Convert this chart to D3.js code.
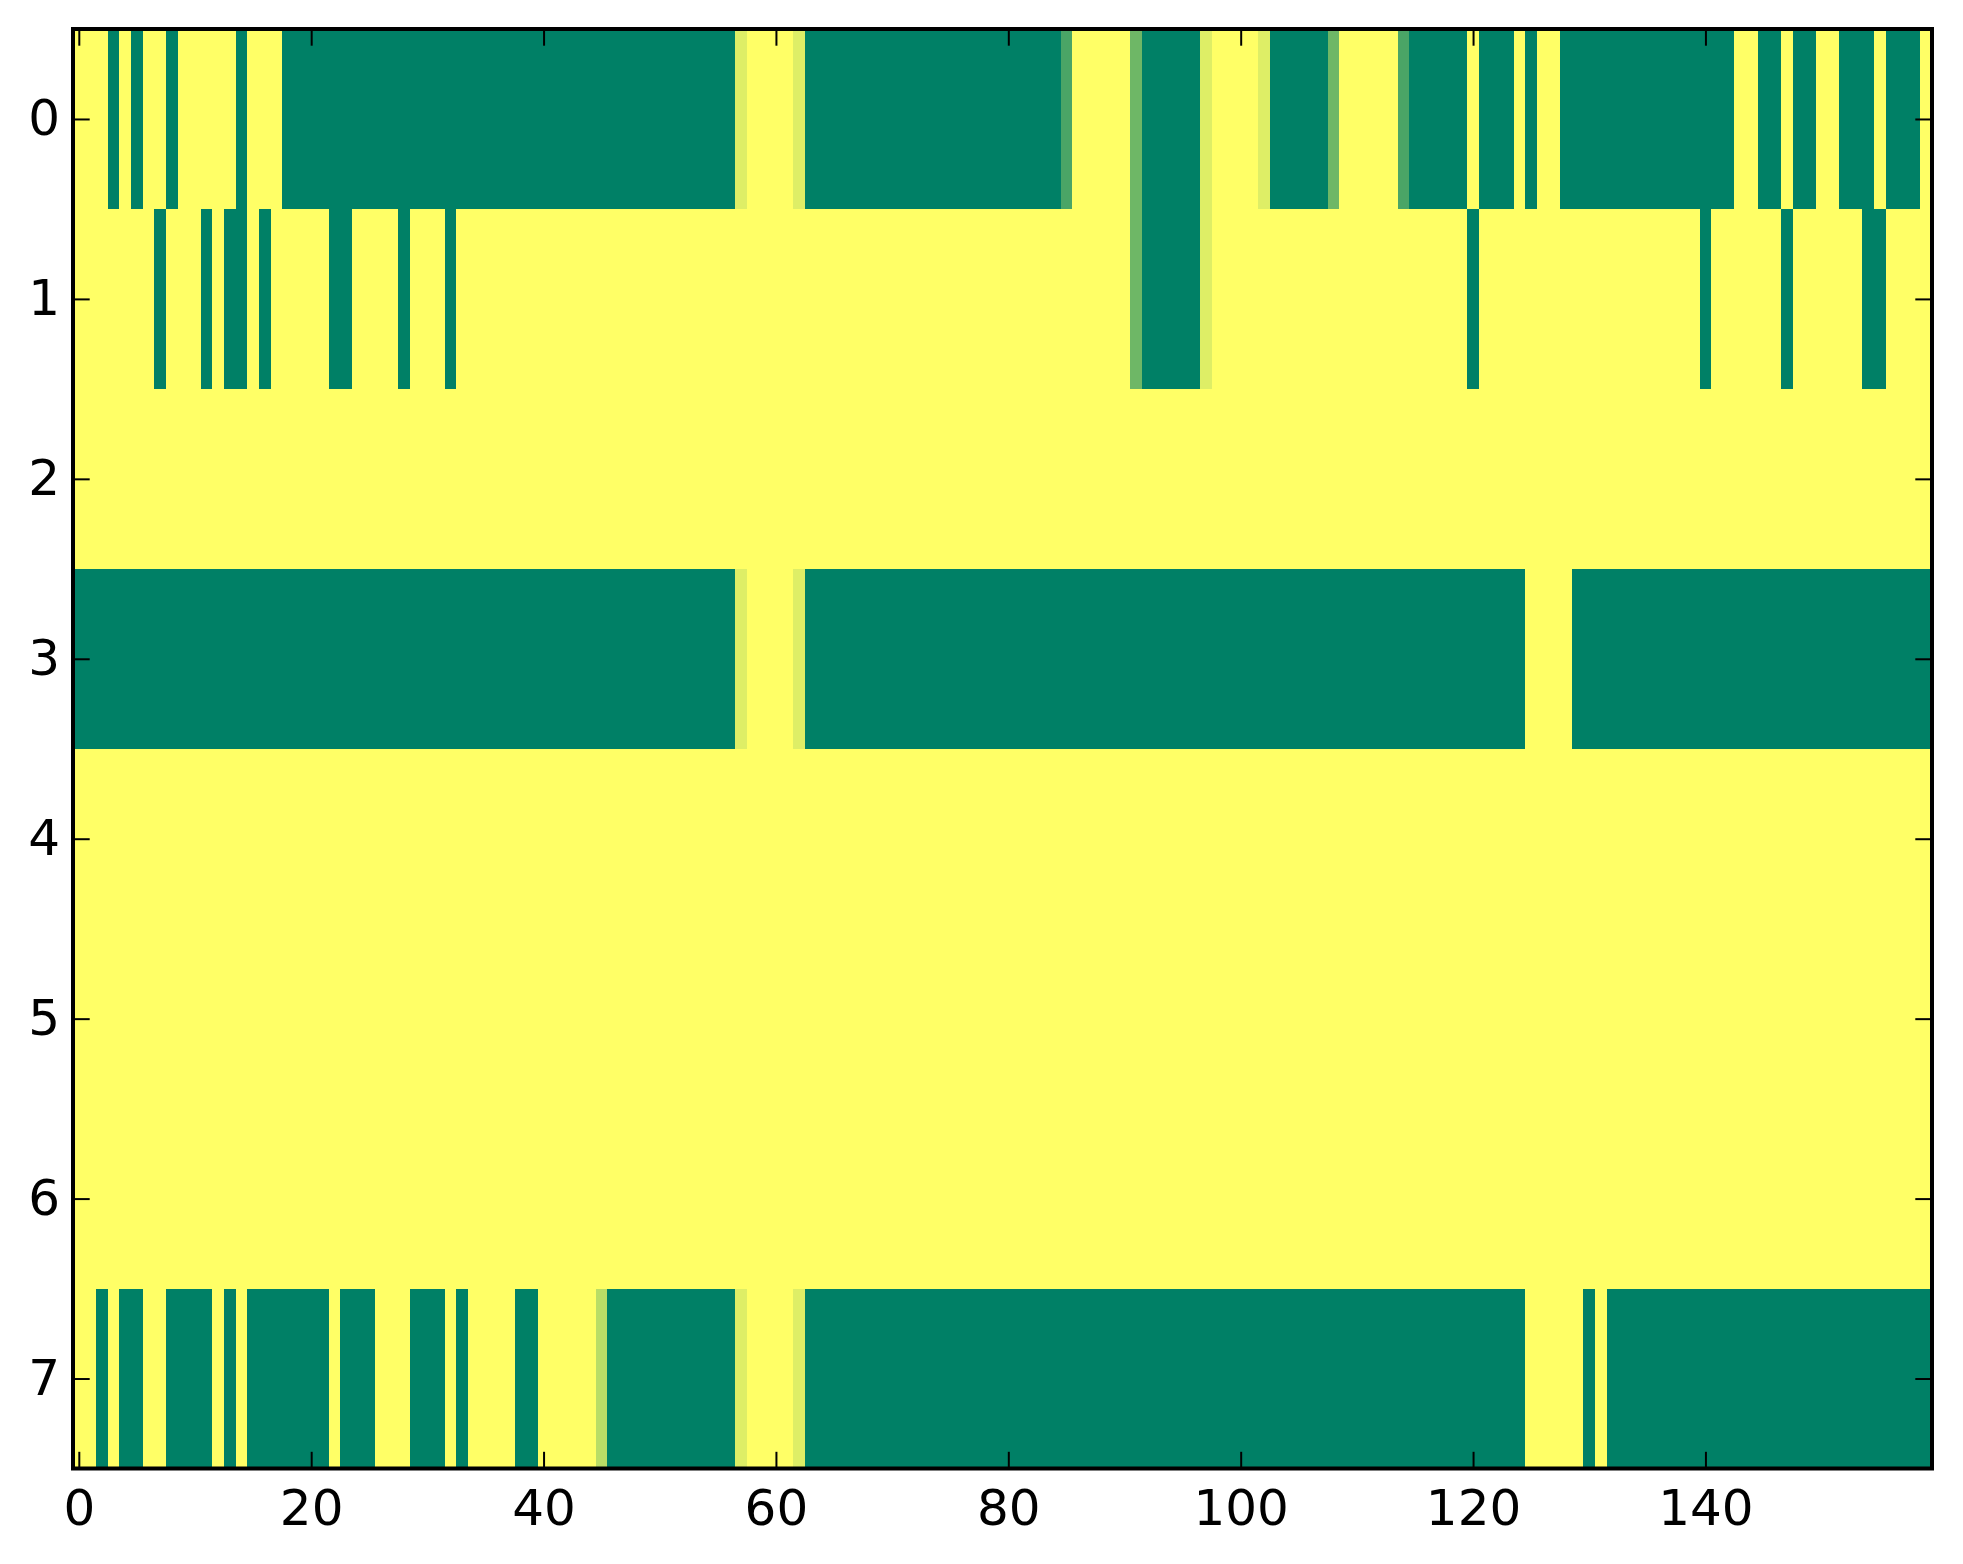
<!DOCTYPE html>
<html>
<head>
<meta charset="utf-8">
<script src="https://cdn.jsdelivr.net/npm/d3@7"></script>
<style>
	html, body { margin: 0; padding: 0; background: #fff; }
	svg { display: block; }
</style>
</head>
<body>
<div id="chart"></div>
<script>
// one array per image row, 160 columns each, 0 = green, 1 = yellow
const row0 = [
	1, 1, 1, 0, 1, 0, 1, 1, 0, 1, 1, 1, 1, 1, 0, 1, 1, 1, 0, 0,
	0, 0, 0, 0, 0, 0, 0, 0, 0, 0, 0, 0, 0, 0, 0, 0, 0, 0, 0, 0,
	0, 0, 0, 0, 0, 0, 0, 0, 0, 0, 0, 0, 0, 0, 0, 0, 0, 0.87, 1, 1,
	1, 1, 0.87, 0, 0, 0, 0, 0, 0, 0, 0, 0, 0, 0, 0, 0, 0, 0, 0, 0,
	0, 0, 0, 0, 0, 0.29, 1, 1, 1, 1, 1, 0.43, 0, 0, 0, 0, 0, 0.87, 1, 1,
	1, 1, 0.87, 0, 0, 0, 0, 0, 0.43, 1, 1, 1, 1, 1, 0.29, 0, 0, 0, 0, 0,
	1, 0, 0, 0, 1, 0, 1, 1, 0, 0, 0, 0, 0, 0, 0, 0, 0, 0, 0, 0,
	0, 0, 0, 1, 1, 0, 0, 1, 0, 0, 1, 1, 0, 0, 0, 1, 0, 0, 0, 1
]
const row1 = [
	1, 1, 1, 1, 1, 1, 1, 0, 1, 1, 1, 0, 1, 0, 0, 1, 0, 1, 1, 1,
	1, 1, 0, 0, 1, 1, 1, 1, 0, 1, 1, 1, 0, 1, 1, 1, 1, 1, 1, 1,
	1, 1, 1, 1, 1, 1, 1, 1, 1, 1, 1, 1, 1, 1, 1, 1, 1, 1, 1, 1,
	1, 1, 1, 1, 1, 1, 1, 1, 1, 1, 1, 1, 1, 1, 1, 1, 1, 1, 1, 1,
	1, 1, 1, 1, 1, 1, 1, 1, 1, 1, 1, 0.43, 0, 0, 0, 0, 0, 0.87, 1, 1,
	1, 1, 1, 1, 1, 1, 1, 1, 1, 1, 1, 1, 1, 1, 1, 1, 1, 1, 1, 1,
	0, 1, 1, 1, 1, 1, 1, 1, 1, 1, 1, 1, 1, 1, 1, 1, 1, 1, 1, 1,
	0, 1, 1, 1, 1, 1, 1, 0, 1, 1, 1, 1, 1, 1, 0, 0, 1, 1, 1, 1
]
const row2 = [
	1, 1, 1, 1, 1, 1, 1, 1, 1, 1, 1, 1, 1, 1, 1, 1, 1, 1, 1, 1,
	1, 1, 1, 1, 1, 1, 1, 1, 1, 1, 1, 1, 1, 1, 1, 1, 1, 1, 1, 1,
	1, 1, 1, 1, 1, 1, 1, 1, 1, 1, 1, 1, 1, 1, 1, 1, 1, 1, 1, 1,
	1, 1, 1, 1, 1, 1, 1, 1, 1, 1, 1, 1, 1, 1, 1, 1, 1, 1, 1, 1,
	1, 1, 1, 1, 1, 1, 1, 1, 1, 1, 1, 1, 1, 1, 1, 1, 1, 1, 1, 1,
	1, 1, 1, 1, 1, 1, 1, 1, 1, 1, 1, 1, 1, 1, 1, 1, 1, 1, 1, 1,
	1, 1, 1, 1, 1, 1, 1, 1, 1, 1, 1, 1, 1, 1, 1, 1, 1, 1, 1, 1,
	1, 1, 1, 1, 1, 1, 1, 1, 1, 1, 1, 1, 1, 1, 1, 1, 1, 1, 1, 1
]
const row3 = [
	0, 0, 0, 0, 0, 0, 0, 0, 0, 0, 0, 0, 0, 0, 0, 0, 0, 0, 0, 0,
	0, 0, 0, 0, 0, 0, 0, 0, 0, 0, 0, 0, 0, 0, 0, 0, 0, 0, 0, 0,
	0, 0, 0, 0, 0, 0, 0, 0, 0, 0, 0, 0, 0, 0, 0, 0, 0, 0.87, 1, 1,
	1, 1, 0.87, 0, 0, 0, 0, 0, 0, 0, 0, 0, 0, 0, 0, 0, 0, 0, 0, 0,
	0, 0, 0, 0, 0, 0, 0, 0, 0, 0, 0, 0, 0, 0, 0, 0, 0, 0, 0, 0,
	0, 0, 0, 0, 0, 0, 0, 0, 0, 0, 0, 0, 0, 0, 0, 0, 0, 0, 0, 0,
	0, 0, 0, 0, 0, 1, 1, 1, 1, 0, 0, 0, 0, 0, 0, 0, 0, 0, 0, 0,
	0, 0, 0, 0, 0, 0, 0, 0, 0, 0, 0, 0, 0, 0, 0, 0, 0, 0, 0, 0
]
const row4 = [
	1, 1, 1, 1, 1, 1, 1, 1, 1, 1, 1, 1, 1, 1, 1, 1, 1, 1, 1, 1,
	1, 1, 1, 1, 1, 1, 1, 1, 1, 1, 1, 1, 1, 1, 1, 1, 1, 1, 1, 1,
	1, 1, 1, 1, 1, 1, 1, 1, 1, 1, 1, 1, 1, 1, 1, 1, 1, 1, 1, 1,
	1, 1, 1, 1, 1, 1, 1, 1, 1, 1, 1, 1, 1, 1, 1, 1, 1, 1, 1, 1,
	1, 1, 1, 1, 1, 1, 1, 1, 1, 1, 1, 1, 1, 1, 1, 1, 1, 1, 1, 1,
	1, 1, 1, 1, 1, 1, 1, 1, 1, 1, 1, 1, 1, 1, 1, 1, 1, 1, 1, 1,
	1, 1, 1, 1, 1, 1, 1, 1, 1, 1, 1, 1, 1, 1, 1, 1, 1, 1, 1, 1,
	1, 1, 1, 1, 1, 1, 1, 1, 1, 1, 1, 1, 1, 1, 1, 1, 1, 1, 1, 1
]
const row5 = [
	1, 1, 1, 1, 1, 1, 1, 1, 1, 1, 1, 1, 1, 1, 1, 1, 1, 1, 1, 1,
	1, 1, 1, 1, 1, 1, 1, 1, 1, 1, 1, 1, 1, 1, 1, 1, 1, 1, 1, 1,
	1, 1, 1, 1, 1, 1, 1, 1, 1, 1, 1, 1, 1, 1, 1, 1, 1, 1, 1, 1,
	1, 1, 1, 1, 1, 1, 1, 1, 1, 1, 1, 1, 1, 1, 1, 1, 1, 1, 1, 1,
	1, 1, 1, 1, 1, 1, 1, 1, 1, 1, 1, 1, 1, 1, 1, 1, 1, 1, 1, 1,
	1, 1, 1, 1, 1, 1, 1, 1, 1, 1, 1, 1, 1, 1, 1, 1, 1, 1, 1, 1,
	1, 1, 1, 1, 1, 1, 1, 1, 1, 1, 1, 1, 1, 1, 1, 1, 1, 1, 1, 1,
	1, 1, 1, 1, 1, 1, 1, 1, 1, 1, 1, 1, 1, 1, 1, 1, 1, 1, 1, 1
]
const row6 = [
	1, 1, 1, 1, 1, 1, 1, 1, 1, 1, 1, 1, 1, 1, 1, 1, 1, 1, 1, 1,
	1, 1, 1, 1, 1, 1, 1, 1, 1, 1, 1, 1, 1, 1, 1, 1, 1, 1, 1, 1,
	1, 1, 1, 1, 1, 1, 1, 1, 1, 1, 1, 1, 1, 1, 1, 1, 1, 1, 1, 1,
	1, 1, 1, 1, 1, 1, 1, 1, 1, 1, 1, 1, 1, 1, 1, 1, 1, 1, 1, 1,
	1, 1, 1, 1, 1, 1, 1, 1, 1, 1, 1, 1, 1, 1, 1, 1, 1, 1, 1, 1,
	1, 1, 1, 1, 1, 1, 1, 1, 1, 1, 1, 1, 1, 1, 1, 1, 1, 1, 1, 1,
	1, 1, 1, 1, 1, 1, 1, 1, 1, 1, 1, 1, 1, 1, 1, 1, 1, 1, 1, 1,
	1, 1, 1, 1, 1, 1, 1, 1, 1, 1, 1, 1, 1, 1, 1, 1, 1, 1, 1, 1
]
const row7 = [
	1, 1, 0, 1, 0, 0, 1, 1, 0, 0, 0, 0, 1, 0, 1, 0, 0, 0, 0, 0,
	0, 0, 1, 0, 0, 0, 1, 1, 1, 0, 0, 0, 1, 0, 1, 1, 1, 1, 0, 0,
	1, 1, 1, 1, 1, 0.73, 0, 0, 0, 0, 0, 0, 0, 0, 0, 0, 0, 0.87, 1, 1,
	1, 1, 0.87, 0, 0, 0, 0, 0, 0, 0, 0, 0, 0, 0, 0, 0, 0, 0, 0, 0,
	0, 0, 0, 0, 0, 0, 0, 0, 0, 0, 0, 0, 0, 0, 0, 0, 0, 0, 0, 0,
	0, 0, 0, 0, 0, 0, 0, 0, 0, 0, 0, 0, 0, 0, 0, 0, 0, 0, 0, 0,
	0, 0, 0, 0, 0, 1, 1, 1, 1, 1, 0, 1, 0, 0, 0, 0, 0, 0, 0, 0,
	0, 0, 0, 0, 0, 0, 0, 0, 0, 0, 0, 0, 0, 0, 0, 0, 0, 0, 0, 0
]
const rows = [row0, row1, row2, row3, row4, row5, row6, row7]

const xTicks = [0, 20, 40, 60, 80, 100, 120, 140]
const yTicks = [0, 1, 2, 3, 4, 5, 6, 7]

const width = 1963
const height = 1564
const plotLeft = 73, plotRight = 1932, plotTop = 29, plotBottom = 1468.5
const tickLen = 16.7

const svg = d3.select("#chart")
	.append("svg")
	.attr("width", width)
	.attr("height", height)

const nCols = rows[0].length
const x = d3.scaleLinear().domain([-0.5, nCols - 0.5]).range([plotLeft, plotRight])
const y = d3.scaleLinear().domain([-0.5, rows.length - 0.5]).range([plotTop, plotBottom])

// summer colormap: green -> yellow
const color = d3.scaleLinear().domain([0, 1]).range(["#008066", "#ffff66"])

const cells = rows.flatMap((r, i) => r.map((v, j) => ({ i, j, v })))

svg.append("g")
	.selectAll("rect")
	.data(cells)
	.enter().append("rect")
	.attr("x", d => x(d.j - 0.5))
	.attr("y", d => y(d.i - 0.5))
	.attr("width", d => x(d.j + 0.5) - x(d.j - 0.5))
	.attr("height", d => y(d.i + 0.5) - y(d.i - 0.5))
	.attr("fill", d => color(d.v))
	.attr("shape-rendering", "crispEdges")

function styleAxis(g) {
	g.select(".domain").remove()
	g.selectAll(".tick line").attr("stroke", "#000").attr("stroke-width", 2)
	g.selectAll(".tick text")
		.attr("fill", "#000")
		.style("font-family", "'DejaVu Sans', sans-serif")
		.style("font-size", "50px")
}

// ticks point inward on all four sides
svg.append("g")
	.attr("transform", `translate(0,${plotBottom})`)
	.call(d3.axisBottom(x).tickValues(xTicks).tickSizeInner(-tickLen).tickSizeOuter(0).tickPadding(21))
	.call(styleAxis)

svg.append("g")
	.attr("transform", `translate(0,${plotTop})`)
	.call(d3.axisTop(x).tickValues(xTicks).tickSizeInner(-tickLen).tickSizeOuter(0).tickFormat(""))
	.call(styleAxis)

svg.append("g")
	.attr("transform", `translate(${plotLeft},0)`)
	.call(d3.axisLeft(y).tickValues(yTicks).tickSizeInner(-tickLen).tickSizeOuter(0).tickPadding(13))
	.call(styleAxis)

svg.append("g")
	.attr("transform", `translate(${plotRight},0)`)
	.call(d3.axisRight(y).tickValues(yTicks).tickSizeInner(-tickLen).tickSizeOuter(0).tickFormat(""))
	.call(styleAxis)

// frame
svg.append("rect")
	.attr("x", plotLeft)
	.attr("y", plotTop)
	.attr("width", plotRight - plotLeft)
	.attr("height", plotBottom - plotTop)
	.attr("fill", "none")
	.attr("stroke", "#000")
	.attr("stroke-width", 4)
</script>
</body>
</html>
